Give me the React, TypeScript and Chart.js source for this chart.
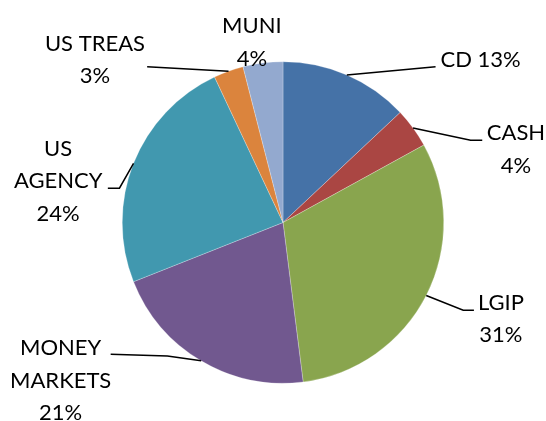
import React, { useEffect, useRef } from "react";
import { Chart, registerables } from "chart.js";

Chart.register(...registerables);

const categories = ["CD", "CASH", "LGIP", "MONEY MARKETS", "US AGENCY", "US TREAS", "MUNI"];
const shares = [13, 4, 31, 21, 24, 3, 4];
const sliceColors = ["#4572A7", "#AA4643", "#89A54E", "#71588F", "#4198AF", "#DB843D", "#93A9CF"];
// Text lines of each data label
const labelLines = [
  ["CD 13%"],
  ["CASH", "4%"],
  ["LGIP", "31%"],
  ["MONEY", "MARKETS", "21%"],
  ["US", "AGENCY", "24%"],
  ["US TREAS", "3%"],
  ["MUNI", "4%"],
];

// Label layout: offsets from the slice's outer mid-point (leader path + text anchor)
type LabelLayout = { path: [number, number][]; tx: number; ty: number; align: CanvasTextAlign };
const labelLayout: LabelLayout[] = [
  { path: [[88.7, -8.3]], tx: 93.7, ty: -7.6, align: "left" },
  { path: [[57.6, 12.3], [69.2, 12.3]], tx: 102.9, ty: 12.3, align: "center" },
  { path: [[37, 14.8], [47.7, 14.8]], tx: 74.7, ty: 14.2, align: "center" },
  { path: [[-33.8, -4.8], [-90.5, -6.5]], tx: -140.5, ty: -5.8, align: "center" },
  { path: [[-14.1, 24.9], [-25.7, 24.9]], tx: -75.4, ty: -7.7, align: "center" },
  { path: [[-81.4, -4.6]], tx: -133.6, ty: -20.6, align: "center" },
  { path: [], tx: -11, ty: -30, align: "center" },
];

const LINE_GAP = 32.7;

const labelPlugin = {
  id: "outsideLabels",
  afterDraw(chart: any) {
    const ctx = chart.ctx as CanvasRenderingContext2D;
    const meta = chart.getDatasetMeta(0);
    ctx.save();
    meta.data.forEach((arc: any, i: number) => {
      const p = arc.getProps(["x", "y", "startAngle", "endAngle", "outerRadius"], true);
      const mid = (p.startAngle + p.endAngle) / 2;
      const ex = p.x + Math.cos(mid) * p.outerRadius;
      const ey = p.y + Math.sin(mid) * p.outerRadius;
      const lay = labelLayout[i];
      if (lay.path.length) {
        ctx.beginPath();
        ctx.moveTo(ex, ey);
        lay.path.forEach(([dx, dy]) => ctx.lineTo(ex + dx, ey + dy));
        ctx.strokeStyle = "#000";
        ctx.lineWidth = 1.5;
        ctx.stroke();
      }
      ctx.fillStyle = "#000";
      ctx.font = "22px Lato";
      ctx.textAlign = lay.align;
      ctx.textBaseline = "alphabetic";
      labelLines[i].forEach((t, k) => {
        ctx.fillText(t, ex + lay.tx, ey + lay.ty + k * LINE_GAP);
      });
    });
    ctx.restore();
  },
};

export default function App() {
  const ref = useRef<HTMLCanvasElement | null>(null);
  useEffect(() => {
    if (!ref.current) return;
    const chart = new Chart(ref.current, {
      type: "pie",
      data: {
        labels: categories,
        datasets: [
          {
            data: shares,
            backgroundColor: sliceColors,
            borderWidth: 0.5,
            borderColor: "rgba(255,255,255,0.5)",
          },
        ],
      },
      options: {
        responsive: false,
        animation: false,
        layout: { padding: { top: 61, bottom: 37, left: 122, right: 102 } },
        plugins: {
          legend: { display: false },
          tooltip: { enabled: false },
        },
      },
      plugins: [labelPlugin],
    });
    return () => chart.destroy();
  }, []);
  return (
    <div style={{ position: "fixed", left: 0, top: 0, width: 546, height: 421, background: "#fff" }}>
      <canvas ref={ref} width={546} height={421} />
    </div>
  );
}
